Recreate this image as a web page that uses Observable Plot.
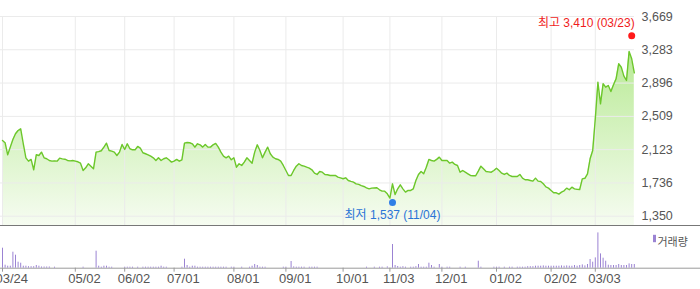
<!DOCTYPE html>
<html><head><meta charset="utf-8">
<script src="https://cdn.jsdelivr.net/npm/d3@7"></script>
<script src="https://cdn.jsdelivr.net/npm/@observablehq/plot@0.6"></script>
<style>
body{margin:0;background:#fff;overflow:hidden}
#chart{width:700px;height:289px;position:relative;background:#fff}
#chart svg{display:block}
</style>
</head><body><div id="chart"></div>
<script>
// trading-day index 0 = 2025-03-24 ... 243 = 2026-03-24
const closes = [
2229,2203,2063,2152,2241,2307,2345,2365,2191,2028,
1989,2009,1889,2063,2055,2094,2028,2017,1997,1989,
1993,1989,2024,2016,2012,1997,1993,1997,1990,1982,
1966,1881,1912,1959,1931,1900,2094,2100,2110,2152,
2198,2113,2105,2094,2055,2094,2183,2125,2191,2133,
2121,2121,2160,2140,2087,2075,2063,2047,2028,1997,
2028,1997,2017,2028,2005,1978,1989,2009,1989,2005,
2198,2206,2203,2191,2152,2191,2179,2152,2183,2152,
2152,2179,2195,2152,2094,2047,2028,2047,2005,2028,
1919,1959,1939,1978,2028,1997,1966,2094,2179,2113,
2028,2094,2152,2075,2036,2017,2009,1989,1939,1881,
1823,1823,1881,1931,1959,1939,1931,1919,1908,1889,
1850,1835,1869,1861,1835,1831,1823,1823,1823,1804,
1795,1785,1796,1765,1755,1746,1726,1719,1705,1695,
1680,1668,1676,1678,1680,1657,1641,1641,1610,1560,
1726,1602,1668,1715,1668,1630,1649,1649,1668,1765,
1835,1869,1842,1919,2009,1997,1989,2010,2036,1997,
1997,1997,1966,1978,1951,1939,1861,1881,1861,1842,
1823,1820,1820,1873,1931,1900,1869,1865,1861,1881,
1908,1881,1850,1835,1850,1823,1811,1811,1811,1835,
1792,1773,1773,1765,1757,1792,1757,1753,1726,1690,
1676,1649,1622,1622,1606,1630,1645,1676,1657,1687,
1668,1662,1660,1784,1790,1842,2017,2113,2481,2906,
2655,2888,2848,2868,2798,2876,2946,3120,3080,2976,
2926,3263,3178,3015
];
const volumes = [
20,3,2,2,16,13,6,5,2,2,
1.5,1.5,1.5,2.7,2,1.2,1.2,1.2,1.2,0,
1,0,0,0,0,0,0,0,0,0,
0,1,0,0,0,0,17,2,1,2,
2,1,1,0,0,0,0,1,1,1,
1,0,1,0,1,1,1,1,1,1,
1,2,1,1,0,0,0,0,0,1,
9,2.7,1,2,2,1,1,1,1,1,
1,1,1,1,1,1,1,0,1,1,
0,0,1,0,0,1,2,3.7,2.7,1,
1,1,0,0,0,0,0,0,1,1,
0,6.7,1.3,1,1,1,1,0,1,1,
1,1,0,0,0,0,0,0,0,0,
0,0,0,0,0,0,0,0,0,0,
1,0,0,1,0,1,1,0,1.3,0,
23.7,2.7,1.7,1,1.5,1,0,1,1,1.5,
3.7,1,1,1,5,2.7,1,0,3.7,1,
0,1,1,0,0,0,1,0,1,0,
0,0,0,7,1,0,0,0,0,1,
1,1,0,1,0,1,1,0,1,1,
1,1,1.5,1.5,1.5,2,2,2,2.3,2,
2,2,2,2,2,2.3,2,2.3,2,2,
2.7,2,2.7,3.3,2.3,3.7,8.7,6,10.3,35.3,
14.3,10,7,3,2.7,2.7,2.7,3.7,2.7,2.7,
2.7,4.3,3.7,3.7
];
const tickDays = [0,28,47,66,89,109,131,149,169,190,211,228];
const tickLabels = ["03/24","05/02","06/02","07/01","08/01","09/01","10/01","11/03","12/01","01/02","02/02","03/03"];
const yTicks = [1350,1736,2123,2509,2896,3283,3669];
const highDay = 242, highValue = 3410, highLabel = "최고 3,410 (03/23)";
const lowDay = 150, lowValue = 1537, lowLabel = "최저 1,537 (11/04)";
const volumeLabel = "거래량";

const yFloor = 1242;      // price value at the panel's bottom edge
const volTop = 42.7;      // volume value at the panel's top edge
const dayDomain = [0, 243];
const dayRange = [2, 633.8];

const font = '"Liberation Sans", Arial, "Noto Sans CJK KR", sans-serif';
const green = "#6cc72b", purple = "#9b83d3", grid = "#ebebeb";

const gradientDefs = () => {
  const d = document.createElementNS("http://www.w3.org/2000/svg", "defs");
  d.innerHTML = '<linearGradient id="pf" x1="0" y1="0" x2="0" y2="1">' +
    '<stop offset="0" stop-color="#b9ea96"/><stop offset="1" stop-color="#f6fcf1"/></linearGradient>';
  return d;
};
// thin upright bar used as the volume legend swatch
const barSymbol = {draw(ctx) { ctx.rect(-1.5, -3.7, 3, 7.4); }};

const price = Plot.plot({
  width: 700, height: 225,
  marginTop: 16, marginBottom: 0, marginLeft: 0, marginRight: 66,
  x: {domain: dayDomain, range: dayRange, axis: null},
  y: {domain: [yFloor, 3669], axis: null},
  style: {fontFamily: font, fontSize: "12px", color: "#555", background: "transparent", overflow: "visible"},
  marks: [
    gradientDefs,
    Plot.areaY(closes, {x: (d, i) => i, y1: yFloor, y2: d => d, fill: "url(#pf)"}),
    Plot.gridY(yTicks, {stroke: grid, strokeOpacity: 1}),
    Plot.gridX(tickDays, {stroke: grid, strokeOpacity: 1}),
    Plot.lineY(closes, {x: (d, i) => i, y: d => d, stroke: green, strokeWidth: 1.4}),
    Plot.axisY(yTicks, {anchor: "right", tickSize: 0, tickPadding: 7, tickFormat: d3.format(","), fontSize: 12.5}),
    Plot.dot([highDay], {x: d => d, y: () => highValue, r: 3.5, fill: "#ff1a1a", dy: -3}),
    Plot.text([highDay], {x: d => d, y: () => highValue, text: () => highLabel, textAnchor: "end", dx: 3, dy: -16, fill: "#f01c1c", fontSize: 12}),
    Plot.dot([lowDay], {x: d => d, y: () => lowValue, r: 3.5, fill: "#2f7fe6", dy: 2.5}),
    Plot.text([lowDay], {x: d => d, y: () => lowValue, text: () => lowLabel, textAnchor: "middle", dy: 15.5, fill: "#2a74d6", fontSize: 12})
  ]
});

const volume = Plot.plot({
  width: 700, height: 64,
  marginTop: 0, marginBottom: 21.3, marginLeft: 0, marginRight: 0,
  x: {domain: dayDomain, range: dayRange, axis: null},
  y: {domain: [0, volTop], axis: null},
  style: {fontFamily: font, fontSize: "13px", color: "#555", background: "transparent", overflow: "visible"},
  marks: [
    Plot.ruleY([volTop], {stroke: "#777"}),
    Plot.ruleY([0], {stroke: "#9a9a9a"}),
    Plot.ruleX(volumes, {x: (d, i) => i, y1: 0, y2: d => d, stroke: purple, strokeWidth: 1}),
    Plot.ruleX(tickDays, {x: d => d, y1: 0, y2: -4, stroke: "#9a9a9a"}),
    Plot.text(tickDays, {x: d => d, text: (d, i) => tickLabels[i], frameAnchor: "bottom", dy: 15, dx: -7, textAnchor: "start", fontSize: 13, fill: "#555"}),
    Plot.dot([volumeLabel], {frameAnchor: "top-right", dx: -46, dy: 13, symbol: barSymbol, fill: purple}),
    Plot.text([volumeLabel], {frameAnchor: "top-right", dx: -43, dy: 13, text: d => d, textAnchor: "start", fontSize: 11, fill: "#555"})
  ]
});

const root = document.getElementById("chart");
root.appendChild(price);
root.appendChild(volume);
</script>
</body></html>
